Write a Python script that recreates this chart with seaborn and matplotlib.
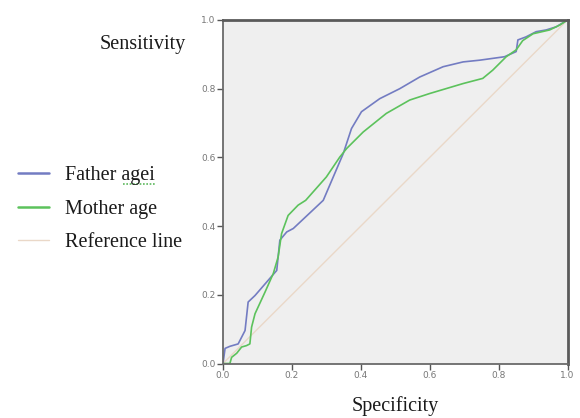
import numpy as np
import pandas as pd
import matplotlib
matplotlib.use("Agg")
import matplotlib.pyplot as plt
import seaborn as sns
from matplotlib.lines import Line2D

# ROC curve data
father_x = [0.0, 0.006, 0.02, 0.044, 0.064, 0.073, 0.093, 0.131, 0.156, 0.165, 0.185, 0.204,
            0.291, 0.320, 0.349, 0.373, 0.402, 0.455, 0.513, 0.571, 0.639, 0.697, 0.745,
            0.817, 0.851, 0.856, 0.880, 0.909, 0.938, 0.967, 1.0]
father_y = [0.0, 0.044, 0.050, 0.057, 0.096, 0.179, 0.198, 0.242, 0.271, 0.359, 0.383, 0.393,
            0.475, 0.543, 0.611, 0.684, 0.733, 0.771, 0.800, 0.834, 0.864, 0.878, 0.883,
            0.893, 0.908, 0.942, 0.951, 0.966, 0.971, 0.980, 1.0]

mother_x = [0.0, 0.02, 0.025, 0.04, 0.054, 0.068, 0.078, 0.083, 0.093, 0.122, 0.146, 0.160,
            0.170, 0.189, 0.218, 0.240, 0.300, 0.339, 0.359, 0.407, 0.474, 0.542, 0.600,
            0.697, 0.754, 0.783, 0.822, 0.851, 0.870, 0.900, 0.948, 0.977, 1.0]
mother_y = [0.0, 0.0, 0.018, 0.030, 0.048, 0.052, 0.057, 0.106, 0.145, 0.208, 0.262, 0.310,
            0.378, 0.431, 0.461, 0.475, 0.543, 0.601, 0.626, 0.674, 0.728, 0.767, 0.786,
            0.815, 0.830, 0.854, 0.893, 0.913, 0.940, 0.960, 0.971, 0.985, 1.0]

ref_x = [0.0, 1.0]
ref_y = [0.0, 1.0]

series_labels = ["Father agei", "Mother age", "Reference line"]
tick_vals = [0.0, 0.2, 0.4, 0.6, 0.8, 1.0]
tick_labels = ["0.0", "0.2", "0.4", "0.6", "0.8", "1.0"]

df = pd.concat([
    pd.DataFrame({"x": father_x, "y": father_y, "series": series_labels[0]}),
    pd.DataFrame({"x": mother_x, "y": mother_y, "series": series_labels[1]}),
    pd.DataFrame({"x": ref_x, "y": ref_y, "series": series_labels[2]}),
], ignore_index=True)

sns.set_theme(style="white")
plt.rcParams["font.family"] = ["Liberation Serif", "DejaVu Serif"]

fig = plt.figure(figsize=(5.8, 4.18), dpi=100)
ax = fig.add_axes([223 / 580, 1 - 363.5 / 418, (567.5 - 223) / 580, (363.5 - 20) / 418])
ax.set_facecolor("#efefef")

palette = {series_labels[0]: "#737cc2", series_labels[1]: "#5cc25c", series_labels[2]: "#ead8c8"}
# reference line first so curves sit on top
sns.lineplot(data=df[df.series == series_labels[2]], x="x", y="y", hue="series",
             palette=palette, sort=False, estimator=None, ax=ax, linewidth=1.0, legend=False)
sns.lineplot(data=df[df.series != series_labels[2]], x="x", y="y", hue="series",
             palette=palette, sort=False, estimator=None, ax=ax, linewidth=1.2, legend=False)

ax.set_xlim(0, 1)
ax.set_ylim(0, 1)
ax.set_xticks(tick_vals)
ax.set_xticklabels(tick_labels)
ax.set_yticks(tick_vals)
ax.set_yticklabels(tick_labels)
ax.tick_params(axis="both", which="both", direction="out", length=4, width=1,
               color="#555555", labelsize=6.5, labelcolor="#777777", pad=1.5,
               bottom=True, left=True)
for lab in ax.get_xticklabels() + ax.get_yticklabels():
    lab.set_family("DejaVu Sans")

for side in ["top", "right"]:
    ax.spines[side].set_color("#5a5a5a")
    ax.spines[side].set_linewidth(2.0)
for side in ["left", "bottom"]:
    ax.spines[side].set_color("#6a6a6a")
    ax.spines[side].set_linewidth(1.3)

ax.set_xlabel("")
ax.set_ylabel("")
fig.text(395 / 580, 1 - 406 / 418, "Specificity", ha="center", va="center",
         fontsize=14.5, color="#1a1a1a")
fig.text(143 / 580, 1 - 45 / 418, "Sensitivity", ha="center", va="center",
         fontsize=14.5, color="#1a1a1a")

handles = [Line2D([0], [0], color=palette[s], lw=1.8 if i < 2 else 1.0)
           for i, s in enumerate(series_labels)]
leg = fig.legend(handles, series_labels, loc="upper left",
                 bbox_to_anchor=(18 / 580, 1 - 166 / 418), bbox_transform=fig.transFigure,
                 frameon=False, fontsize=14.5, handlelength=1.55, handletextpad=0.8,
                 labelspacing=0.72, borderpad=0, borderaxespad=0)
for t in leg.get_texts():
    t.set_color("#1a1a1a")

# green dotted spell-check underline under "agei"
fig.canvas.draw()
bb = leg.get_texts()[0].get_window_extent()
x0 = bb.x0 + bb.width * 0.64
fig.add_artist(Line2D([x0, bb.x1], [bb.y0 + 1, bb.y0 + 1], transform=None,
                      color="#5cb85c", lw=1.2, linestyle=(0, (1, 1))))

fig.savefig("out.png", dpi=100)
